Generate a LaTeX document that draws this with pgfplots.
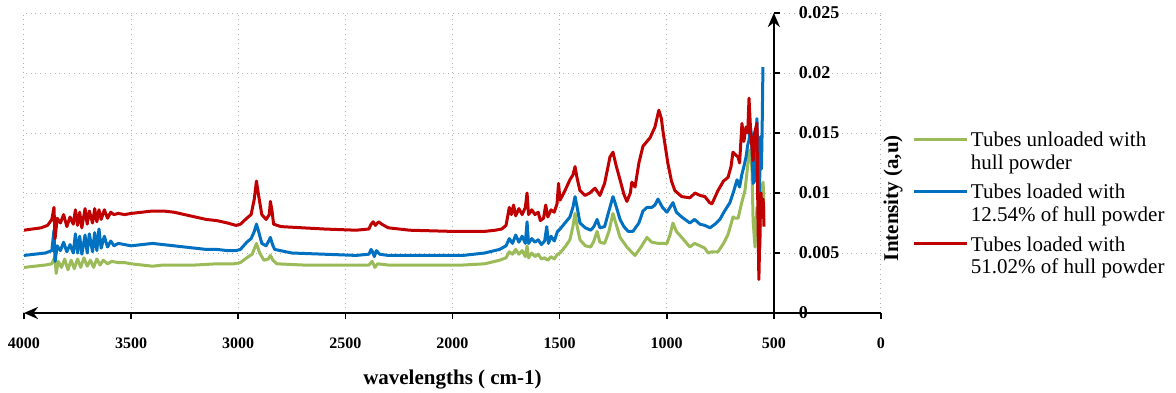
\documentclass[border=0pt]{standalone}
\usepackage{fontspec}
\setmainfont{Liberation Serif}
\usepackage{pgfplots}
\pgfplotsset{compat=1.18}
\usetikzlibrary{arrows.meta}
\definecolor{cgreen}{RGB}{155,187,89}
\definecolor{cblue}{RGB}{0,112,192}
\definecolor{cred}{RGB}{192,0,0}
\begin{document}
\begin{tikzpicture}
\useasboundingbox (-12pt,-39.5pt) rectangle (576pt,156.5pt);
\begin{axis}[
  scale only axis, width=428.5pt, height=150pt,
  xmin=0, xmax=4000, ymin=0, ymax=0.025, x dir=reverse,
  axis x line*=bottom, axis y line*=right,
  axis y line shift=-53.5625pt,
  x axis line style={line width=1.2pt, -{Stealth[length=7pt,width=6pt]}},
  y axis line style={line width=1.2pt, -{Stealth[length=7pt,width=6pt]}},
  tick align=outside, major tick length=3pt,
  tick style={black, line width=0.8pt},
  xtick={0,500,1000,1500,2000,2500,3000,3500,4000},
  ytick={0,0.005,0.01,0.015,0.02,0.025},
  grid=major, grid style={gray!60, dotted, line width=0.5pt},
  scaled y ticks=false,
  /pgf/number format/assume math mode=true,
  yticklabel style={/pgf/number format/fixed, /pgf/number format/precision=3, font=\bfseries\fontsize{9}{10}\selectfont, xshift=6pt},
  xticklabel style={/pgf/number format/1000 sep={}, font=\bfseries\fontsize{8}{9}\selectfont, yshift=-6pt},
  xlabel={wavelengths ( cm-1)},
  every axis x label/.style={at={(axis description cs:0.5,0)}, anchor=center, yshift=-33.5pt, font=\bfseries\fontsize{10.5}{12}\selectfont},
  ylabel={Intensity (a,u)},
  every axis y label/.style={at={(axis description cs:1,0.383)}, anchor=center, xshift=6pt, rotate=90, font=\bfseries\fontsize{10.5}{12}\selectfont},
  legend style={at={(axis description cs:1.0362,0.613)}, anchor=north west, draw=none, fill=none,
    font=\fontsize{10.5}{11.35}\selectfont, cells={anchor=west, align=left},
    nodes={inner sep=1.25pt, text depth=0pt}, row sep=5pt, inner sep=0pt},
  legend image code/.code={\path[draw=none,fill=none] (0pt,-5.7pt) (26.5pt,5.7pt);\draw[#1, line width=1.5pt] (0pt,5.7pt) -- (26.5pt,5.7pt);},
  every axis plot/.append style={line width=1.5pt, line join=round},
]
\addplot[cgreen] coordinates {
(4000,0.0038) (3950,0.0039) (3900,0.0040) (3870,0.0041) (3855,0.0047) (3850,0.0033)
(3840,0.0043) (3825,0.0038) (3810,0.0045) (3795,0.0036) (3780,0.0044) (3765,0.0037)
(3750,0.0045) (3735,0.0038) (3720,0.0046) (3705,0.0039) (3690,0.0044) (3675,0.0038)
(3660,0.0045) (3645,0.0040) (3630,0.0044) (3610,0.0041) (3590,0.0043) (3560,0.0042)
(3530,0.0042) (3500,0.0041) (3450,0.0040) (3400,0.0039) (3350,0.0040) (3300,0.0040)
(3200,0.0040) (3100,0.0041) (3020,0.0041) (2990,0.0042) (2960,0.0046) (2935,0.0049)
(2915,0.0058) (2900,0.0050) (2880,0.0044) (2860,0.0045) (2850,0.0048) (2838,0.0044)
(2820,0.0041) (2700,0.0040) (2500,0.0040) (2390,0.0040) (2375,0.0043) (2362,0.0038)
(2350,0.0041) (2300,0.0040) (2100,0.0040) (1950,0.0040) (1850,0.0041) (1780,0.0044)
(1750,0.0046) (1735,0.0051) (1720,0.0049) (1705,0.0053) (1690,0.0049) (1675,0.0052)
(1660,0.0047) (1652,0.0056) (1645,0.0046) (1630,0.0050) (1615,0.0047) (1600,0.0049)
(1585,0.0045) (1570,0.0046) (1555,0.0044) (1540,0.0047) (1525,0.0045) (1510,0.0049)
(1498,0.0050) (1475,0.0055) (1452,0.0061) (1438,0.0072) (1428,0.0083) (1418,0.0072)
(1405,0.0061) (1380,0.0056) (1355,0.0055) (1340,0.0060) (1325,0.0068) (1312,0.0059)
(1290,0.0058) (1270,0.0068) (1251,0.0083) (1238,0.0075) (1218,0.0063) (1186,0.0055)
(1160,0.0050) (1148,0.0048) (1120,0.0055) (1092,0.0063) (1070,0.0059) (1040,0.0058)
(999,0.0058) (985,0.0065) (971,0.0075) (955,0.0068) (930,0.0063) (892,0.0055)
(870,0.0058) (845,0.0056) (822,0.0054) (807,0.0050) (790,0.0051) (761,0.0051)
(735,0.0058) (715,0.0065) (700,0.0074) (691,0.0080) (680,0.0079) (667,0.0079)
(650,0.0092) (635,0.0102) (625,0.0118) (616,0.0134) (610,0.0136) (602,0.0119)
(597,0.0077) (588,0.0055) (579,0.0088) (572,0.0066) (565,0.0055) (556,0.0105)
(550,0.0109) (546,0.0080)
};
\addlegendentry{Tubes unloaded with\\hull powder}
\addplot[cblue] coordinates {
(4000,0.0048) (3950,0.0049) (3900,0.0050) (3870,0.0052) (3860,0.0069) (3855,0.0043)
(3845,0.0056) (3830,0.0052) (3815,0.0059) (3800,0.0051) (3785,0.0057) (3770,0.0050)
(3760,0.0066) (3750,0.0050) (3740,0.0064) (3730,0.0049) (3715,0.0065) (3705,0.0050)
(3695,0.0066) (3680,0.0051) (3670,0.0067) (3660,0.0052) (3650,0.0070) (3640,0.0054)
(3625,0.0064) (3610,0.0055) (3595,0.0060) (3580,0.0056) (3560,0.0058) (3530,0.0057)
(3500,0.0056) (3450,0.0057) (3400,0.0058) (3350,0.0057) (3300,0.0056) (3250,0.0055)
(3200,0.0054) (3150,0.0053) (3100,0.0053) (3050,0.0052) (3010,0.0052) (2990,0.0053)
(2960,0.0059) (2940,0.0062) (2925,0.0068) (2915,0.0074) (2905,0.0068) (2890,0.0058)
(2870,0.0056) (2855,0.0061) (2850,0.0063) (2840,0.0057) (2830,0.0053) (2750,0.0050)
(2600,0.0049) (2450,0.0048) (2390,0.0049) (2380,0.0053) (2370,0.0050) (2365,0.0047)
(2355,0.0052) (2340,0.0049) (2300,0.0048) (2100,0.0048) (1950,0.0048) (1850,0.0050)
(1780,0.0053) (1750,0.0056) (1735,0.0062) (1720,0.0058) (1705,0.0065) (1690,0.0059)
(1675,0.0064) (1660,0.0058) (1652,0.0076) (1645,0.0058) (1630,0.0062) (1615,0.0059)
(1600,0.0061) (1585,0.0057) (1570,0.0060) (1560,0.0072) (1552,0.0058) (1540,0.0064)
(1525,0.0060) (1510,0.0068) (1498,0.0070) (1475,0.0075) (1452,0.0080) (1438,0.0088)
(1428,0.0097) (1418,0.0088) (1405,0.0075) (1380,0.0071) (1355,0.0069) (1340,0.0072)
(1325,0.0078) (1312,0.0071) (1290,0.0072) (1270,0.0085) (1251,0.0097) (1238,0.0090)
(1218,0.0078) (1200,0.0072) (1180,0.0068) (1158,0.0068) (1130,0.0075) (1111,0.0085)
(1092,0.0088) (1070,0.0088) (1055,0.0090) (1041,0.0095) (1020,0.0088) (999,0.0084)
(985,0.0088) (971,0.0092) (955,0.0084) (930,0.0080) (892,0.0075) (870,0.0078)
(845,0.0074) (822,0.0073) (798,0.0071) (775,0.0074) (752,0.0078) (730,0.0085)
(705,0.0092) (690,0.0100) (680,0.0106) (672,0.0111) (660,0.0105) (650,0.0115)
(640,0.0122) (630,0.0130) (622,0.0140) (616,0.0144) (610,0.0155) (604,0.0148)
(597,0.0108) (590,0.0110) (583,0.0150) (579,0.0162) (572,0.0100) (568,0.0095)
(562,0.0147) (558,0.0120) (555,0.0150) (551,0.0205)
};
\addlegendentry{Tubes loaded with\\12.54\% of hull powder}
\addplot[cred] coordinates {
(4000,0.0069) (3960,0.0070) (3920,0.0071) (3890,0.0073) (3870,0.0078) (3860,0.0088)
(3855,0.0062) (3845,0.0079) (3830,0.0075) (3815,0.0082) (3800,0.0072) (3785,0.0080)
(3770,0.0074) (3760,0.0086) (3750,0.0073) (3740,0.0084) (3730,0.0071) (3715,0.0087)
(3705,0.0074) (3695,0.0085) (3680,0.0075) (3670,0.0087) (3660,0.0076) (3650,0.0086)
(3640,0.0078) (3625,0.0086) (3610,0.0079) (3595,0.0084) (3580,0.0082) (3560,0.0083)
(3530,0.0082) (3500,0.0083) (3450,0.0084) (3400,0.0085) (3350,0.0085) (3300,0.0084)
(3250,0.0082) (3200,0.0080) (3150,0.0078) (3100,0.0077) (3050,0.0075) (3010,0.0073)
(2990,0.0074) (2960,0.0079) (2940,0.0082) (2925,0.0095) (2915,0.0110) (2905,0.0098)
(2890,0.0082) (2870,0.0078) (2855,0.0082) (2850,0.0093) (2843,0.0086) (2835,0.0074)
(2800,0.0072) (2700,0.0071) (2600,0.0070) (2450,0.0069) (2390,0.0070) (2380,0.0074)
(2370,0.0076) (2360,0.0073) (2345,0.0076) (2330,0.0074) (2300,0.0071) (2200,0.0069)
(2000,0.0068) (1900,0.0068) (1850,0.0068) (1800,0.0069) (1770,0.0070) (1750,0.0073)
(1735,0.0088) (1725,0.0082) (1715,0.0090) (1705,0.0081) (1690,0.0087) (1675,0.0082)
(1660,0.0088) (1652,0.0100) (1645,0.0082) (1630,0.0086) (1615,0.0082) (1600,0.0084)
(1590,0.0077) (1575,0.0079) (1565,0.0090) (1555,0.0080) (1540,0.0086) (1525,0.0084)
(1512,0.0091) (1505,0.0108) (1498,0.0094) (1475,0.0102) (1452,0.0111) (1438,0.0115)
(1428,0.0122) (1418,0.0112) (1405,0.0102) (1382,0.0098) (1359,0.0100) (1335,0.0104)
(1312,0.0098) (1290,0.0108) (1265,0.0130) (1251,0.0134) (1235,0.0122) (1218,0.0111)
(1200,0.0099) (1186,0.0093) (1170,0.0100) (1163,0.0109) (1148,0.0105) (1130,0.0125)
(1111,0.0139) (1078,0.0146) (1055,0.0155) (1037,0.0169) (1025,0.0162) (1018,0.0152)
(995,0.0125) (978,0.0110) (962,0.0102) (930,0.0097) (892,0.0096) (868,0.0100)
(845,0.0098) (822,0.0097) (800,0.0092) (789,0.0091) (761,0.0102) (735,0.0110)
(714,0.0113) (700,0.0122) (691,0.0134) (680,0.0132) (667,0.0130) (660,0.0125)
(649,0.0158) (640,0.0143) (630,0.0155) (622,0.0150) (616,0.0179) (608,0.0150)
(597,0.0127) (590,0.0150) (579,0.0158) (575,0.0090) (570,0.0028) (565,0.0070)
(560,0.0100) (555,0.0080) (550,0.0095) (546,0.0072)
};
\addlegendentry{Tubes loaded with\\51.02\% of hull powder}
\end{axis}
\end{tikzpicture}
\end{document}
